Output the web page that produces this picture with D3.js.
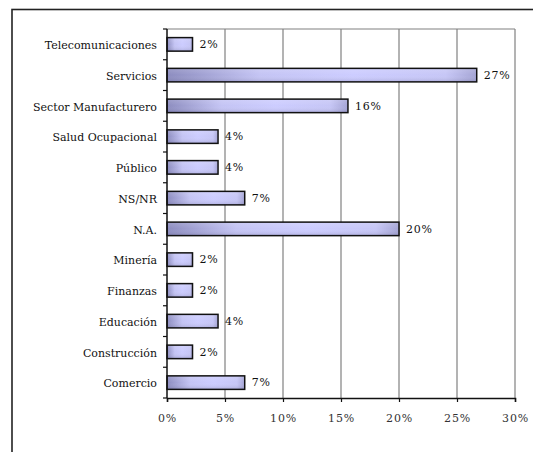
<!DOCTYPE html>
<html>
<head>
<meta charset="utf-8">
<script src="https://cdn.jsdelivr.net/npm/d3@7"></script>
<style>
  html, body { margin: 0; padding: 0; background: #fff; }
  svg { display: block; }
</style>
</head>
<body>
<script>
// Sector categories, top to bottom
const categories = [
  "Telecomunicaciones", "Servicios", "Sector Manufacturero", "Salud Ocupacional",
  "Público", "NS/NR", "N.A.", "Minería", "Finanzas", "Educación",
  "Construcción", "Comercio"
];
// Share of respondents per sector (%)
const values = [2.2, 26.7, 15.6, 4.4, 4.4, 6.7, 20.0, 2.2, 2.2, 4.4, 2.2, 6.7];
// X axis ticks (%)
const xTicks = [0, 5, 10, 15, 20, 25, 30];

const W = 533, H = 452;
const plot = { left: 167, right: 515, top: 29, bottom: 398 };
const FONT = "DejaVu Serif";

const svg = d3.select("body").append("svg").attr("width", W).attr("height", H)
  .style("font-family", FONT);

// bar gradient
const defs = svg.append("defs");
const grad = defs.append("linearGradient").attr("id", "barFill")
  .attr("x1", 0).attr("y1", 0).attr("x2", 1).attr("y2", 0);
[[0, "#8c8cbf"], [0.3, "#c4c4f4"], [0.6, "#ccccff"], [0.9, "#c6c6f6"], [1, "#a4a4d4"]]
  .forEach(([o, c]) => grad.append("stop").attr("offset", o).attr("stop-color", c));
const shade = defs.append("linearGradient").attr("id", "barShade")
  .attr("x1", 0).attr("y1", 0).attr("x2", 0).attr("y2", 1);
[[0, "#ffffff", 0.15], [0.5, "#ffffff", 0], [1, "#30305a", 0.18]]
  .forEach(([o, c, a]) => shade.append("stop").attr("offset", o).attr("stop-color", c).attr("stop-opacity", a));

// outer chart frame (runs past the window edge)
svg.append("rect")
  .attr("x", 12).attr("y", 9.5).attr("width", 540).attr("height", 470)
  .attr("fill", "none").attr("stroke", "#222").attr("stroke-width", 1.6);

const x = d3.scaleLinear().domain([0, 30]).range([plot.left, plot.right]);
const y = d3.scaleBand().domain(categories).range([plot.top, plot.bottom]).paddingInner(0.56).paddingOuter(0.28);
const yb = d3.scaleBand().domain(categories).range([plot.top, plot.bottom]);

// gridlines and plot border
svg.append("g").selectAll("line").data(xTicks.slice(1)).join("line")
  .attr("x1", d => x(d)).attr("x2", d => x(d))
  .attr("y1", plot.top).attr("y2", plot.bottom)
  .attr("stroke", "#808080").attr("stroke-width", 1.2);
svg.append("line")
  .attr("x1", plot.left).attr("x2", plot.right).attr("y1", plot.top).attr("y2", plot.top)
  .attr("stroke", "#808080").attr("stroke-width", 1.2);

// bars
const bars = svg.append("g");
bars.selectAll("rect.b").data(values).join("rect").attr("class", "b")
  .attr("x", x(0)).attr("y", (d, i) => y(categories[i]))
  .attr("width", d => x(d) - x(0)).attr("height", y.bandwidth())
  .attr("fill", "url(#barFill)");
bars.selectAll("rect.s").data(values).join("rect").attr("class", "s")
  .attr("x", x(0)).attr("y", (d, i) => y(categories[i]))
  .attr("width", d => x(d) - x(0)).attr("height", y.bandwidth())
  .attr("fill", "url(#barShade)").attr("stroke", "#111").attr("stroke-width", 1.5);

// value labels
const fmt = d => d3.format(".0f")(d) + "%";
svg.append("g").selectAll("text").data(values).join("text")
  .attr("x", d => x(d) + 7)
  .attr("y", (d, i) => y(categories[i]) + y.bandwidth() / 2)
  .attr("dy", "0.35em").attr("font-size", 11).attr("letter-spacing", 0.8).attr("fill", "#111")
  .style("font-family", FONT)
  .text(fmt);

// y axis with ticks at band boundaries
const yAxis = svg.append("g");
yAxis.append("line")
  .attr("x1", plot.left).attr("x2", plot.left).attr("y1", plot.top).attr("y2", plot.bottom)
  .attr("stroke", "#111").attr("stroke-width", 1.5);
yAxis.selectAll("line.t").data(categories.concat([null])).join("line").attr("class", "t")
  .attr("x1", plot.left - 4).attr("x2", plot.left)
  .attr("y1", (d, i) => plot.top + i * yb.step()).attr("y2", (d, i) => plot.top + i * yb.step())
  .attr("stroke", "#111").attr("stroke-width", 1.2);
yAxis.selectAll("text").data(categories).join("text")
  .attr("x", plot.left - 10)
  .attr("y", d => yb(d) + yb.bandwidth() / 2 + 1)
  .attr("dy", "0.35em").attr("text-anchor", "end").attr("font-size", 11).attr("fill", "#111")
  .style("font-family", FONT)
  .text(d => d);

// x axis
const xAxis = svg.append("g").attr("transform", `translate(0,${plot.bottom})`)
  .call(d3.axisBottom(x).tickValues(xTicks).tickSize(4).tickPadding(12).tickFormat(fmt));
xAxis.select(".domain").attr("stroke", "#111").attr("stroke-width", 1.5);
xAxis.selectAll(".tick line").attr("stroke", "#111").attr("stroke-width", 1.2);
xAxis.selectAll(".tick text")
  .style("font-family", FONT)
  .attr("font-size", 11).attr("letter-spacing", 0.8).attr("fill", "#333");
</script>
</body>
</html>
